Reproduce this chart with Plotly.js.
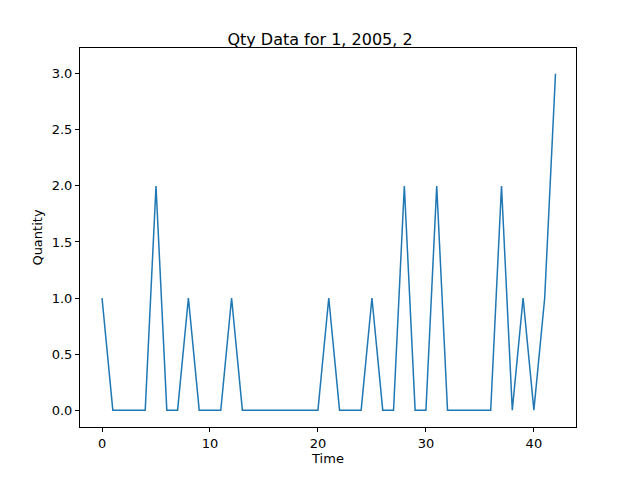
<!DOCTYPE html>
<html>
<head>
<script src="https://cdn.plot.ly/plotly-3.0.1.min.js"></script>
<style>body{margin:0}</style>
</head>
<body>
<div id="plot" style="width:640px;height:480px"></div>
<script>
// quantity per time step
const times = [];
for (let i = 0; i <= 42; i++) times.push(i);
const qty = [1, 0, 0, 0, 0, 2, 0, 0, 1, 0, 0, 0, 1, 0, 0, 0, 0, 0, 0, 0, 0, 1,
             0, 0, 0, 1, 0, 0, 2, 0, 0, 2, 0, 0, 0, 0, 0, 2, 0, 1, 0, 1, 3];
const yTicks = [0, 0.5, 1, 1.5, 2, 2.5, 3];
const yTickText = ['0.0', '0.5', '1.0', '1.5', '2.0', '2.5', '3.0'];

const axisStyle = {
    showgrid: false, zeroline: false, showline: true, mirror: true,
    linecolor: 'black', linewidth: 1, ticks: 'outside', ticklen: 4,
    tickcolor: 'black', tickfont: {size: 13}
};

Plotly.newPlot('plot', [{
    x: times, y: qty, type: 'scatter', mode: 'lines',
    line: {color: '#1f77b4', width: 1.5}
}], {
    width: 640, height: 480,
    font: {family: 'DejaVu Sans', color: 'black'},
    margin: {l: 80, r: 64, t: 48, b: 53},
    title: {text: 'Qty Data for 1, 2005, 2', font: {size: 16}, y: 0.917, yanchor: 'middle'},
    xaxis: Object.assign({}, axisStyle, {
        range: [-2.04, 43.9], tickvals: [0, 10, 20, 30, 40],
        title: {text: 'Time', font: {size: 13}, standoff: 4}
    }),
    yaxis: Object.assign({}, axisStyle, {
        range: [-0.15, 3.23], tickvals: yTicks, ticktext: yTickText,
        title: {text: 'Quantity', font: {size: 13}, standoff: 6}
    }),
    showlegend: false,
    plot_bgcolor: 'white', paper_bgcolor: 'white'
}, {displayModeBar: false});
</script>
</body>
</html>
